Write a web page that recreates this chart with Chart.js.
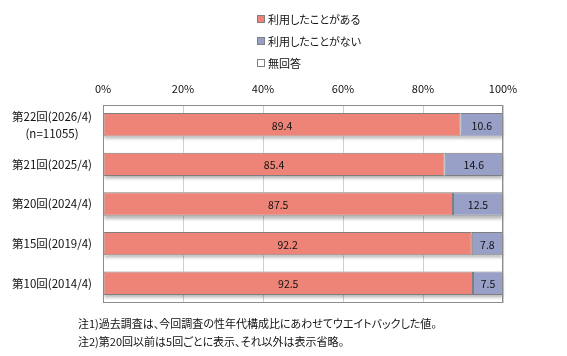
<!DOCTYPE html>
<html><head><meta charset="utf-8">
<script src="https://cdn.jsdelivr.net/npm/chart.js@4.4.1/dist/chart.umd.min.js"></script>
<style>
html,body{margin:0;padding:0;background:#fff;}
#wrap{position:relative;width:567px;height:356px;font-family:"Noto Sans CJK JP",sans-serif;color:#111;}
canvas{position:absolute;left:0;top:0;}
#legend{position:absolute;left:257px;top:8px;font-size:11px;font-feature-settings:"palt";}
.li{height:22px;line-height:20px;display:flex;align-items:center;}
.box{width:6px;height:6px;border:1px solid #7f7f7f;margin-right:3px;}
#notes{position:absolute;left:78px;top:314px;font-size:11px;line-height:18px;font-feature-settings:"palt";}
</style></head>
<body><div id="wrap"><canvas id="c" width="567" height="356"></canvas><div id="legend"></div><div id="notes"></div></div>
<script>
const categories = [["第22回(2026/4)","(n=11055)"], "第21回(2025/4)", "第20回(2024/4)", "第15回(2019/4)", "第10回(2014/4)"];
const seriesNames = ["利用したことがある", "利用したことがない", "無回答"];
const usedValues = [89.4, 85.4, 87.5, 92.2, 92.5];
const notUsedValues = [10.6, 14.6, 12.5, 7.8, 7.5];
const noAnswerValues = [0, 0, 0, 0, 0];
const xTicks = [0, 20, 40, 60, 80, 100];
const notes = ["注1)過去調査は、今回調査の性年代構成比にあわせてウエイトバックした値。", "注2)第20回以前は5回ごとに表示、それ以外は表示省略。"];
const colors = ["#EE8477", "#99A0C8", "#FFFFFF"];

const FONT = '"Noto Sans CJK JP", sans-serif';

const barPlugin = {
  id: 'barDeco',
  beforeDatasetsDraw(chart) {
    const ctx = chart.ctx;
    const m0 = chart.getDatasetMeta(0);
    const mLast = chart.getDatasetMeta(chart.data.datasets.length - 1);
    ctx.save();
    ctx.shadowColor = 'rgba(0,0,0,0.28)';
    ctx.shadowBlur = 3;
    ctx.shadowOffsetX = 0;
    ctx.shadowOffsetY = 3;
    ctx.fillStyle = '#ffffff';
    m0.data.forEach((el, i) => {
      const l = mLast.data[i];
      const x0 = el.base, x1 = l.x;
      ctx.fillRect(x0, el.y - el.height/2, x1 - x0, el.height);
    });
    ctx.restore();
  },
  afterDatasetsDraw(chart) {
    const ctx = chart.ctx;
    ctx.save();
    ctx.font = '10.5px ' + FONT;
    ctx.fillStyle = '#111';
    ctx.textAlign = 'center';
    ctx.textBaseline = 'middle';
    [0,1].forEach(di => {
      const meta = chart.getDatasetMeta(di);
      meta.data.forEach((el, i) => {
        const v = chart.data.datasets[di].data[i];
        if (!v) return;
        ctx.fillText(v.toFixed(1), (el.x + el.base)/2, el.y + 1);
      });
    });
    const a = chart.chartArea;
    ctx.strokeStyle = '#8c8c8c';
    ctx.lineWidth = 1;
    ctx.strokeRect(Math.round(a.left)+0.5, Math.round(a.top)+0.5, Math.round(a.right-a.left)-1, Math.round(a.bottom-a.top)-1);
    ctx.restore();
  }
};

new Chart(document.getElementById('c'), {
  type: 'bar',
  data: {
    labels: categories,
    datasets: [
      {label: seriesNames[0], data: usedValues, backgroundColor: colors[0]},
      {label: seriesNames[1], data: notUsedValues, backgroundColor: colors[1]},
      {label: seriesNames[2], data: noAnswerValues, backgroundColor: colors[2]}
    ].map(d => Object.assign(d, {borderColor: '#7f7f7f', borderWidth: 1, borderSkipped: false, categoryPercentage: 1, barPercentage: 0.59}))
  },
  options: {
    indexAxis: 'y',
    responsive: false,
    animation: false,
    layout: {padding: {left: 0, right: 64, top: 0, bottom: 53}},
    plugins: {legend: {display: false}, tooltip: {enabled: false}},
    scales: {
      x: {
        position: 'top', stacked: true, min: 0, max: 100,
        afterFit(s) { s.height = 105; },
        afterBuildTicks(s) { s.ticks = xTicks.map(v => ({value: v})); },
        ticks: {padding: 10, color: '#111', font: {family: FONT, size: 11}, callback: v => v + '%'},
        grid: {color: '#cfcfcf', drawTicks: false},
        border: {display: false}
      },
      y: {
        stacked: true,
        afterFit(s) { s.width = 103; },
        ticks: {padding: 11, crossAlign: 'center', color: '#111', font: {family: FONT, size: 11.5, lineHeight: 1.5}},
        grid: {display: false, drawTicks: false},
        border: {display: false}
      }
    }
  },
  plugins: [barPlugin]
});

const lg = document.getElementById('legend');
seriesNames.forEach((n, i) => {
  const d = document.createElement('div'); d.className = 'li';
  const b = document.createElement('span'); b.className = 'box'; b.style.background = colors[i];
  const t = document.createElement('span'); t.textContent = n;
  d.appendChild(b); d.appendChild(t); lg.appendChild(d);
});
const nt = document.getElementById('notes');
notes.forEach(n => { const d = document.createElement('div'); d.textContent = n; nt.appendChild(d); });
</script></body></html>
